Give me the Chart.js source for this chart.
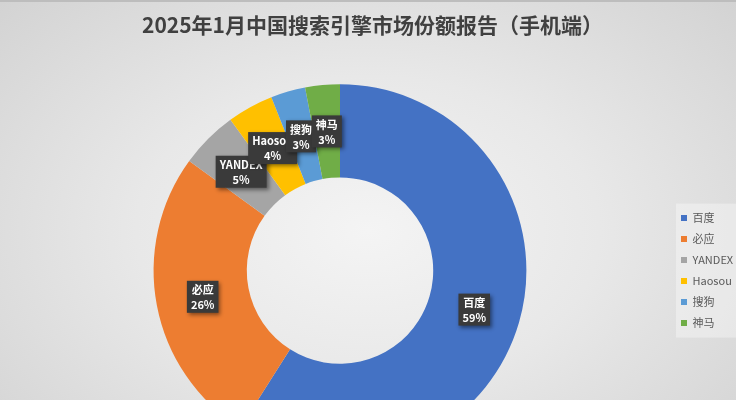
<!DOCTYPE html>
<html>
<head>
<meta charset="utf-8">
<script src="https://cdn.jsdelivr.net/npm/chart.js@4/dist/chart.umd.min.js"></script>
<style>
  html, body { margin: 0; padding: 0; overflow: hidden; }
  #wrap {
    position: relative;
    width: 736px;
    height: 460px;
    background: radial-gradient(ellipse 70% 75% at 50% 50%, #f4f4f4 0%, #e8e8e8 45%, #d2d2d2 100%);
    border-top: 2px solid #bdbdbd;
    box-sizing: border-box;
  }
  canvas { display: block; }
</style>
</head>
<body>
<div id="wrap"><canvas id="c" width="736" height="458"></canvas></div>
<script>
'use strict';

// ── Data ─────────────────────────────────────────────
const engines = ['百度', '必应', 'YANDEX', 'Haosou', '搜狗', '神马'];
const shares  = [59, 26, 5, 4, 3, 3];
const colors  = ['#4472C4', '#ED7D31', '#A5A5A5', '#FFC000', '#5B9BD5', '#70AD47'];
const title   = '2025年1月中国搜索引擎市场份额报告（手机端）';

const FONT = '"Noto Sans CJK SC", "Noto Sans", sans-serif';

// Light box behind the legend
const legendBg = {
  id: 'legendBg',
  beforeDraw(chart) {
    const boxes = chart.legend && chart.legend.legendHitBoxes;
    if (!boxes || !boxes.length) return;
    const top = boxes[0].top - 9;
    const last = boxes[boxes.length - 1];
    const bottom = last.top + last.height + 9;
    const left = Math.min(...boxes.map(b => b.left)) - 5;
    const { ctx } = chart;
    ctx.save();
    ctx.fillStyle = 'rgba(255,255,255,0.35)';
    ctx.fillRect(left, top, chart.width - left, bottom - top);
    ctx.restore();
  }
};

// Dark callout boxes at each arc centre
const sliceLabels = {
  id: 'sliceLabels',
  afterDatasetsDraw(chart) {
    const { ctx } = chart;
    const meta = chart.getDatasetMeta(0);
    const data = chart.data.datasets[0].data;
    const total = data.reduce((a, b) => a + b, 0);
    ctx.save();
    ctx.font = `bold 11px ${FONT}`;
    ctx.textAlign = 'center';
    ctx.textBaseline = 'middle';
    meta.data.forEach((arc, i) => {
      const { x, y } = arc.getCenterPoint();
      const name = chart.data.labels[i];
      const pct = Math.round(data[i] / total * 100) + '%';
      const w = Math.max(ctx.measureText(name).width, ctx.measureText(pct).width) + 8;
      const h = 32;
      ctx.shadowColor = 'rgba(0,0,0,0.45)';
      ctx.shadowBlur = 4;
      ctx.shadowOffsetX = 2;
      ctx.shadowOffsetY = 2;
      ctx.fillStyle = '#3a3a3a';
      ctx.fillRect(x - w / 2, y - h / 2, w, h);
      ctx.shadowColor = 'transparent';
      ctx.fillStyle = '#ffffff';
      ctx.fillText(name, x, y - 7);
      ctx.fillText(pct, x, y + 8);
    });
    ctx.restore();
  }
};

new Chart(document.getElementById('c'), {
  type: 'doughnut',
  data: {
    labels: engines,
    datasets: [{
      data: shares,
      backgroundColor: colors,
      borderWidth: 0,
    }],
  },
  options: {
    responsive: false,
    animation: false,
    cutout: '50%',
    layout: { padding: { top: 0, left: 9, right: 0, bottom: 3 } },
    plugins: {
      title: {
        display: true,
        text: title,
        color: '#404040',
        font: { family: FONT, size: 21, weight: 'bold', lineHeight: 1.2 },
        padding: { top: 10, bottom: 47 },
      },
      legend: {
        position: 'right',
        fullSize: false,
        maxWidth: 65,
        labels: {
          color: '#595959',
          font: { family: FONT, size: 11 },
          boxWidth: 6,
          boxHeight: 6,
          padding: 10,
        },
      },
      tooltip: { enabled: false },
    },
  },
  plugins: [legendBg, sliceLabels],
});
</script>
</body>
</html>
